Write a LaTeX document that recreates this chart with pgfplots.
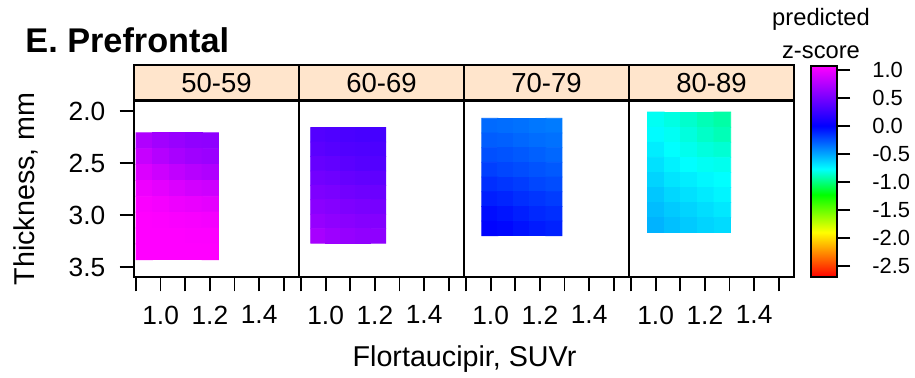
\documentclass[border=0pt]{standalone}
\usepackage{fontspec}
\setmainfont{Liberation Sans}
\usepackage{pgfplots}
\pgfplotsset{compat=1.18}
\definecolor{stripbg}{RGB}{255,229,204}
\pgfplotsset{
  colormap={zs}{rgb255(0pt)=(255,0,0) rgb255(80pt)=(255,255,0) rgb255(147pt)=(0,255,0) rgb255(193pt)=(0,255,255) rgb255(270pt)=(0,0,255) rgb255(377pt)=(255,0,255)},
  panel/.style={
    scale only axis, width=82.5bp, height=88bp, anchor=south west,
    xmin=0.892, xmax=1.562, ymin=1.904, ymax=3.596, y dir=reverse,
    axis line style={line width=0.9bp}, every tick/.style={line width=0.9bp, black},
    tick align=outside, major tick length=7.2bp,
    xtick={0.9,1.0,1.1,1.2,1.3,1.4,1.5}, xticklabels={,1.0,,1.2,,1.4,},
    xtick pos=bottom, ytick pos=left,
    ticklabel style={font=\fontsize{13.2}{15}\selectfont, inner sep=0pt},
    xticklabel style={anchor=north, yshift=-7bp},
    yticklabel style={anchor=east, xshift=-7bp},
    colormap name=zs, point meta min=-2.7, point meta max=1.07,
    every axis title shift=0pt,
    title style={at={(0.5,1)}, anchor=south, yshift=0pt, fill=stripbg, draw=black, line width=0.9bp,
      minimum width=82.5bp, minimum height=17.5bp, inner sep=0pt, font=\fontsize{13.8}{15}\selectfont},
  },
}
\begin{document}
\begin{tikzpicture}
\path (0,0) rectangle (457.5bp,189bp);
% Panel 1
\begin{axis}[panel, at={(67bp,50.5bp)}, title={50-59},
  ytick={2.0,2.5,3.0,3.5}, yticklabels={2.0,2.5,3.0,3.5}]
\addplot[matrix plot*, mesh/cols=5, point meta=explicit] table[meta=z] {
x y z
0.934 2.286 0.74
1.001 2.286 0.68
1.068 2.286 0.64
1.135 2.286 0.61
1.202 2.286 0.60
0.934 2.439 0.83
1.001 2.439 0.76
1.068 2.439 0.71
1.135 2.439 0.67
1.202 2.439 0.65
0.934 2.591 0.92
1.001 2.591 0.86
1.068 2.591 0.81
1.135 2.591 0.77
1.202 2.591 0.74
0.934 2.744 1.00
1.001 2.744 0.96
1.068 2.744 0.92
1.135 2.744 0.88
1.202 2.744 0.86
0.934 2.896 1.05
1.001 2.896 1.03
1.068 2.896 1.00
1.135 2.896 0.98
1.202 2.896 0.96
0.934 3.049 1.07
1.001 3.049 1.06
1.068 3.049 1.05
1.135 3.049 1.04
1.202 3.049 1.03
0.934 3.201 1.07
1.001 3.201 1.07
1.068 3.201 1.07
1.135 3.201 1.06
1.202 3.201 1.06
0.934 3.354 1.07
1.001 3.354 1.07
1.068 3.354 1.07
1.135 3.354 1.07
1.202 3.354 1.07
};
\end{axis}
% Panel 2
\begin{axis}[panel, at={(149.5bp,50.5bp)}, title={60-69}, ytick=\empty]
\addplot[matrix plot*, mesh/cols=5, point meta=explicit] table[meta=z] {
x y z
0.970 2.229 0.35
1.031 2.229 0.33
1.092 2.229 0.31
1.153 2.229 0.30
1.214 2.229 0.29
0.970 2.368 0.38
1.031 2.368 0.36
1.092 2.368 0.34
1.153 2.368 0.33
1.214 2.368 0.32
0.970 2.507 0.43
1.031 2.507 0.41
1.092 2.507 0.38
1.153 2.507 0.36
1.214 2.507 0.35
0.970 2.646 0.48
1.031 2.646 0.46
1.092 2.646 0.43
1.153 2.646 0.41
1.214 2.646 0.40
0.970 2.784 0.53
1.031 2.784 0.51
1.092 2.784 0.48
1.153 2.784 0.46
1.214 2.784 0.45
0.970 2.923 0.58
1.031 2.923 0.56
1.092 2.923 0.53
1.153 2.923 0.51
1.214 2.923 0.50
0.970 3.062 0.63
1.031 3.062 0.60
1.092 3.062 0.58
1.153 3.062 0.56
1.214 3.062 0.55
0.970 3.201 0.70
1.031 3.201 0.66
1.092 3.201 0.63
1.153 3.201 0.61
1.214 3.201 0.60
};
\end{axis}
% Panel 3
\begin{axis}[panel, at={(232bp,50.5bp)}, title={70-79}, ytick=\empty]
\addplot[matrix plot*, mesh/cols=5, point meta=explicit] table[meta=z] {
x y z
0.997 2.141 -0.32
1.062 2.141 -0.33
1.127 2.141 -0.34
1.192 2.141 -0.36
1.257 2.141 -0.37
0.997 2.282 -0.28
1.062 2.282 -0.29
1.127 2.282 -0.31
1.192 2.282 -0.33
1.257 2.282 -0.34
0.997 2.423 -0.24
1.062 2.423 -0.25
1.127 2.423 -0.27
1.192 2.423 -0.29
1.257 2.423 -0.31
0.997 2.564 -0.19
1.062 2.564 -0.21
1.127 2.564 -0.23
1.192 2.564 -0.25
1.257 2.564 -0.27
0.997 2.706 -0.14
1.062 2.706 -0.16
1.127 2.706 -0.18
1.192 2.706 -0.21
1.257 2.706 -0.23
0.997 2.847 -0.09
1.062 2.847 -0.11
1.127 2.847 -0.14
1.192 2.847 -0.16
1.257 2.847 -0.18
0.997 2.988 -0.04
1.062 2.988 -0.06
1.127 2.988 -0.09
1.192 2.988 -0.12
1.257 2.988 -0.14
0.997 3.129 -0.01
1.062 3.129 -0.02
1.127 3.129 -0.05
1.192 3.129 -0.08
1.257 3.129 -0.10
};
\end{axis}
% Panel 4
\begin{axis}[panel, at={(314.5bp,50.5bp)}, title={80-89}, ytick=\empty,
  colorbar,
  colorbar style={at={(parent axis.south east)}, anchor=south west, xshift=0bp,
    scale only axis, width=13bp, height=105.5bp,
    axis line style={line width=0.9bp},
    ytick={-2.5,-2,-1.5,-1,-0.5,0,0.5,1},
    yticklabels={-2.5,-2.0,-1.5,-1.0,-0.5,0.0,0.5,1.0},
    ytick pos=right, yticklabel pos=right, tick align=outside, major tick length=6.5bp,
    every tick/.style={line width=0.9bp, black},
    ytick style={draw=black, line width=0.9bp},
    yticklabel style={font=\fontsize{11}{13}\selectfont, anchor=west, inner sep=0pt, xshift=11bp},
  }]
\addplot[matrix plot*, mesh/cols=5, point meta=explicit] table[meta=z] {
x y z
1.001 2.083 -0.79
1.068 2.083 -0.82
1.136 2.083 -0.86
1.203 2.083 -0.90
1.271 2.083 -0.93
1.001 2.228 -0.76
1.068 2.228 -0.79
1.136 2.228 -0.83
1.203 2.228 -0.87
1.271 2.228 -0.90
1.001 2.373 -0.72
1.068 2.373 -0.77
1.136 2.373 -0.80
1.203 2.373 -0.83
1.271 2.373 -0.85
1.001 2.518 -0.68
1.068 2.518 -0.73
1.136 2.518 -0.77
1.203 2.518 -0.79
1.271 2.518 -0.80
1.001 2.663 -0.64
1.068 2.663 -0.69
1.136 2.663 -0.72
1.203 2.663 -0.75
1.271 2.663 -0.77
1.001 2.808 -0.60
1.068 2.808 -0.65
1.136 2.808 -0.68
1.203 2.808 -0.71
1.271 2.808 -0.74
1.001 2.953 -0.57
1.068 2.953 -0.61
1.136 2.953 -0.64
1.203 2.953 -0.67
1.271 2.953 -0.70
1.001 3.098 -0.54
1.068 3.098 -0.58
1.136 3.098 -0.61
1.203 3.098 -0.64
1.271 3.098 -0.66
};
\end{axis}
\node[anchor=base west, inner sep=0pt, font=\fontsize{17.2}{19}\selectfont\bfseries] at (12.5bp,162.5bp) {E. Prefrontal};
\node[rotate=90, inner sep=0pt, font=\fontsize{14.4}{16}\selectfont] at (13bp,94.5bp) {Thickness, mm};
\node[anchor=base, inner sep=0pt, font=\fontsize{14.4}{16}\selectfont] at (232.25bp,5.7bp) {Flortaucipir, SUVr};
\node[anchor=base, inner sep=0pt, font=\fontsize{11.9}{13}\selectfont] at (410.5bp,176bp) {predicted};
\node[anchor=base, inner sep=0pt, font=\fontsize{11.9}{13}\selectfont] at (410.5bp,159.5bp) {z-score};
\end{tikzpicture}
\end{document}
